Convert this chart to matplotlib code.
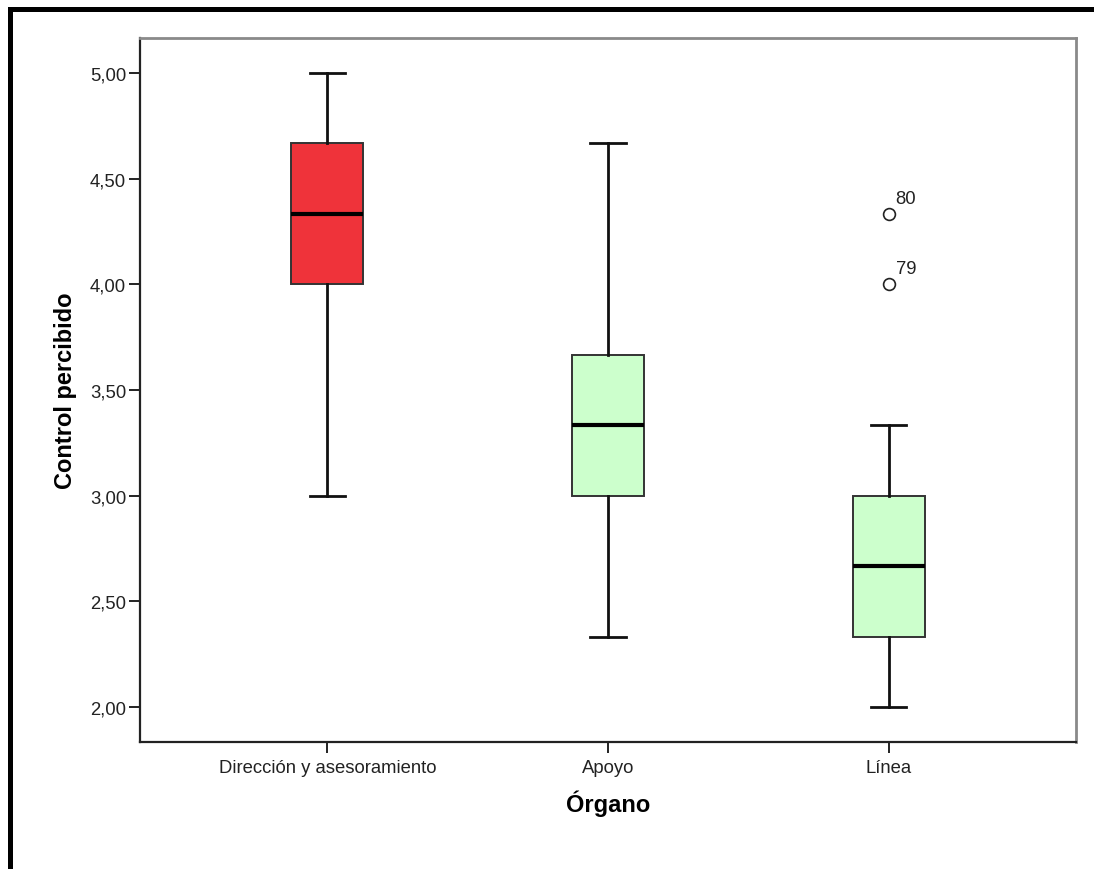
import matplotlib
matplotlib.use("Agg")
import matplotlib.pyplot as plt
from matplotlib.lines import Line2D

plt.rcParams['font.family'] = ['Liberation Sans', 'DejaVu Sans']

# data
categories = ["Dirección y asesoramiento", "Apoyo", "Línea"]
whis_low = [3.00, 2.333, 2.00]
q1 = [4.00, 3.00, 2.333]
medians = [4.333, 3.333, 2.667]
q3 = [4.667, 3.667, 3.00]
whis_high = [5.00, 4.667, 3.333]
outliers = [[], [], [4.00, 4.333]]
outlier_ids = [[], [], ["79", "80"]]
box_colors = ["#EF333A", "#CCFFCC", "#CCFFCC"]
yticks = [2.0, 2.5, 3.0, 3.5, 4.0, 4.5, 5.0]

W, H = 1094, 870
fig = plt.figure(figsize=(W / 100, H / 100), dpi=100)
ax = fig.add_axes([140 / W, 1 - 743 / H, (1076 - 140) / W, (743 - 39) / H])

stats = []
for i, name in enumerate(categories):
    stats.append(dict(label=name, whislo=whis_low[i], q1=q1[i], med=medians[i],
                      q3=q3[i], whishi=whis_high[i], fliers=outliers[i]))

pos = [1, 2, 3]
bp = ax.bxp(stats, positions=pos, widths=0.257, capwidths=0.125,
            patch_artist=True, showfliers=True,
            boxprops=dict(edgecolor="#333333", linewidth=1.4),
            medianprops=dict(color="black", linewidth=3),
            whiskerprops=dict(color="#111111", linewidth=2),
            capprops=dict(color="#111111", linewidth=2),
            flierprops=dict(marker="o", markersize=8.5, markerfacecolor="white",
                            markeredgecolor="#222222", markeredgewidth=1.2))
for patch, c in zip(bp["boxes"], box_colors):
    patch.set_facecolor(c)

for i in range(len(categories)):
    for v, lab in zip(outliers[i], outlier_ids[i]):
        ax.annotate(lab, (pos[i], v), xytext=(5, 8), textcoords="offset points",
                    fontsize=13.3, color="#222222")

ax.set_xlim(0.332, 3.668)
ax.set_ylim(1.834, 5.166)
ax.set_yticks(yticks)
ax.set_yticklabels([f"{t:.2f}".replace(".", ",") for t in yticks])
ax.set_xticks(pos)
ax.set_xticklabels(categories)
ax.tick_params(axis="both", labelsize=13.3, length=8, width=1.4,
               color="#222222", labelcolor="#222222", pad=2)
ax.tick_params(axis="x", pad=4)

for s in ["left", "bottom"]:
    ax.spines[s].set_color("#222222")
    ax.spines[s].set_linewidth(1.6)
for s in ["top", "right"]:
    ax.spines[s].set_color("#8a8a8a")
    ax.spines[s].set_linewidth(2)

ax.set_ylabel("Control percibido", fontsize=17, fontweight="bold", labelpad=9)
ax.set_xlabel("Órgano", fontsize=17, fontweight="bold", labelpad=10)

# thick frame around the chart (right and bottom are cut off)
fig.add_artist(Line2D([9.5 / W, 9.5 / W], [0, 1 - 9.5 / H], transform=fig.transFigure,
                      color="black", linewidth=3.6, solid_capstyle="projecting"))
fig.add_artist(Line2D([9.5 / W, 1], [1 - 9.5 / H, 1 - 9.5 / H], transform=fig.transFigure,
                      color="black", linewidth=3.6, solid_capstyle="projecting"))

fig.savefig("out.png", dpi=100)
